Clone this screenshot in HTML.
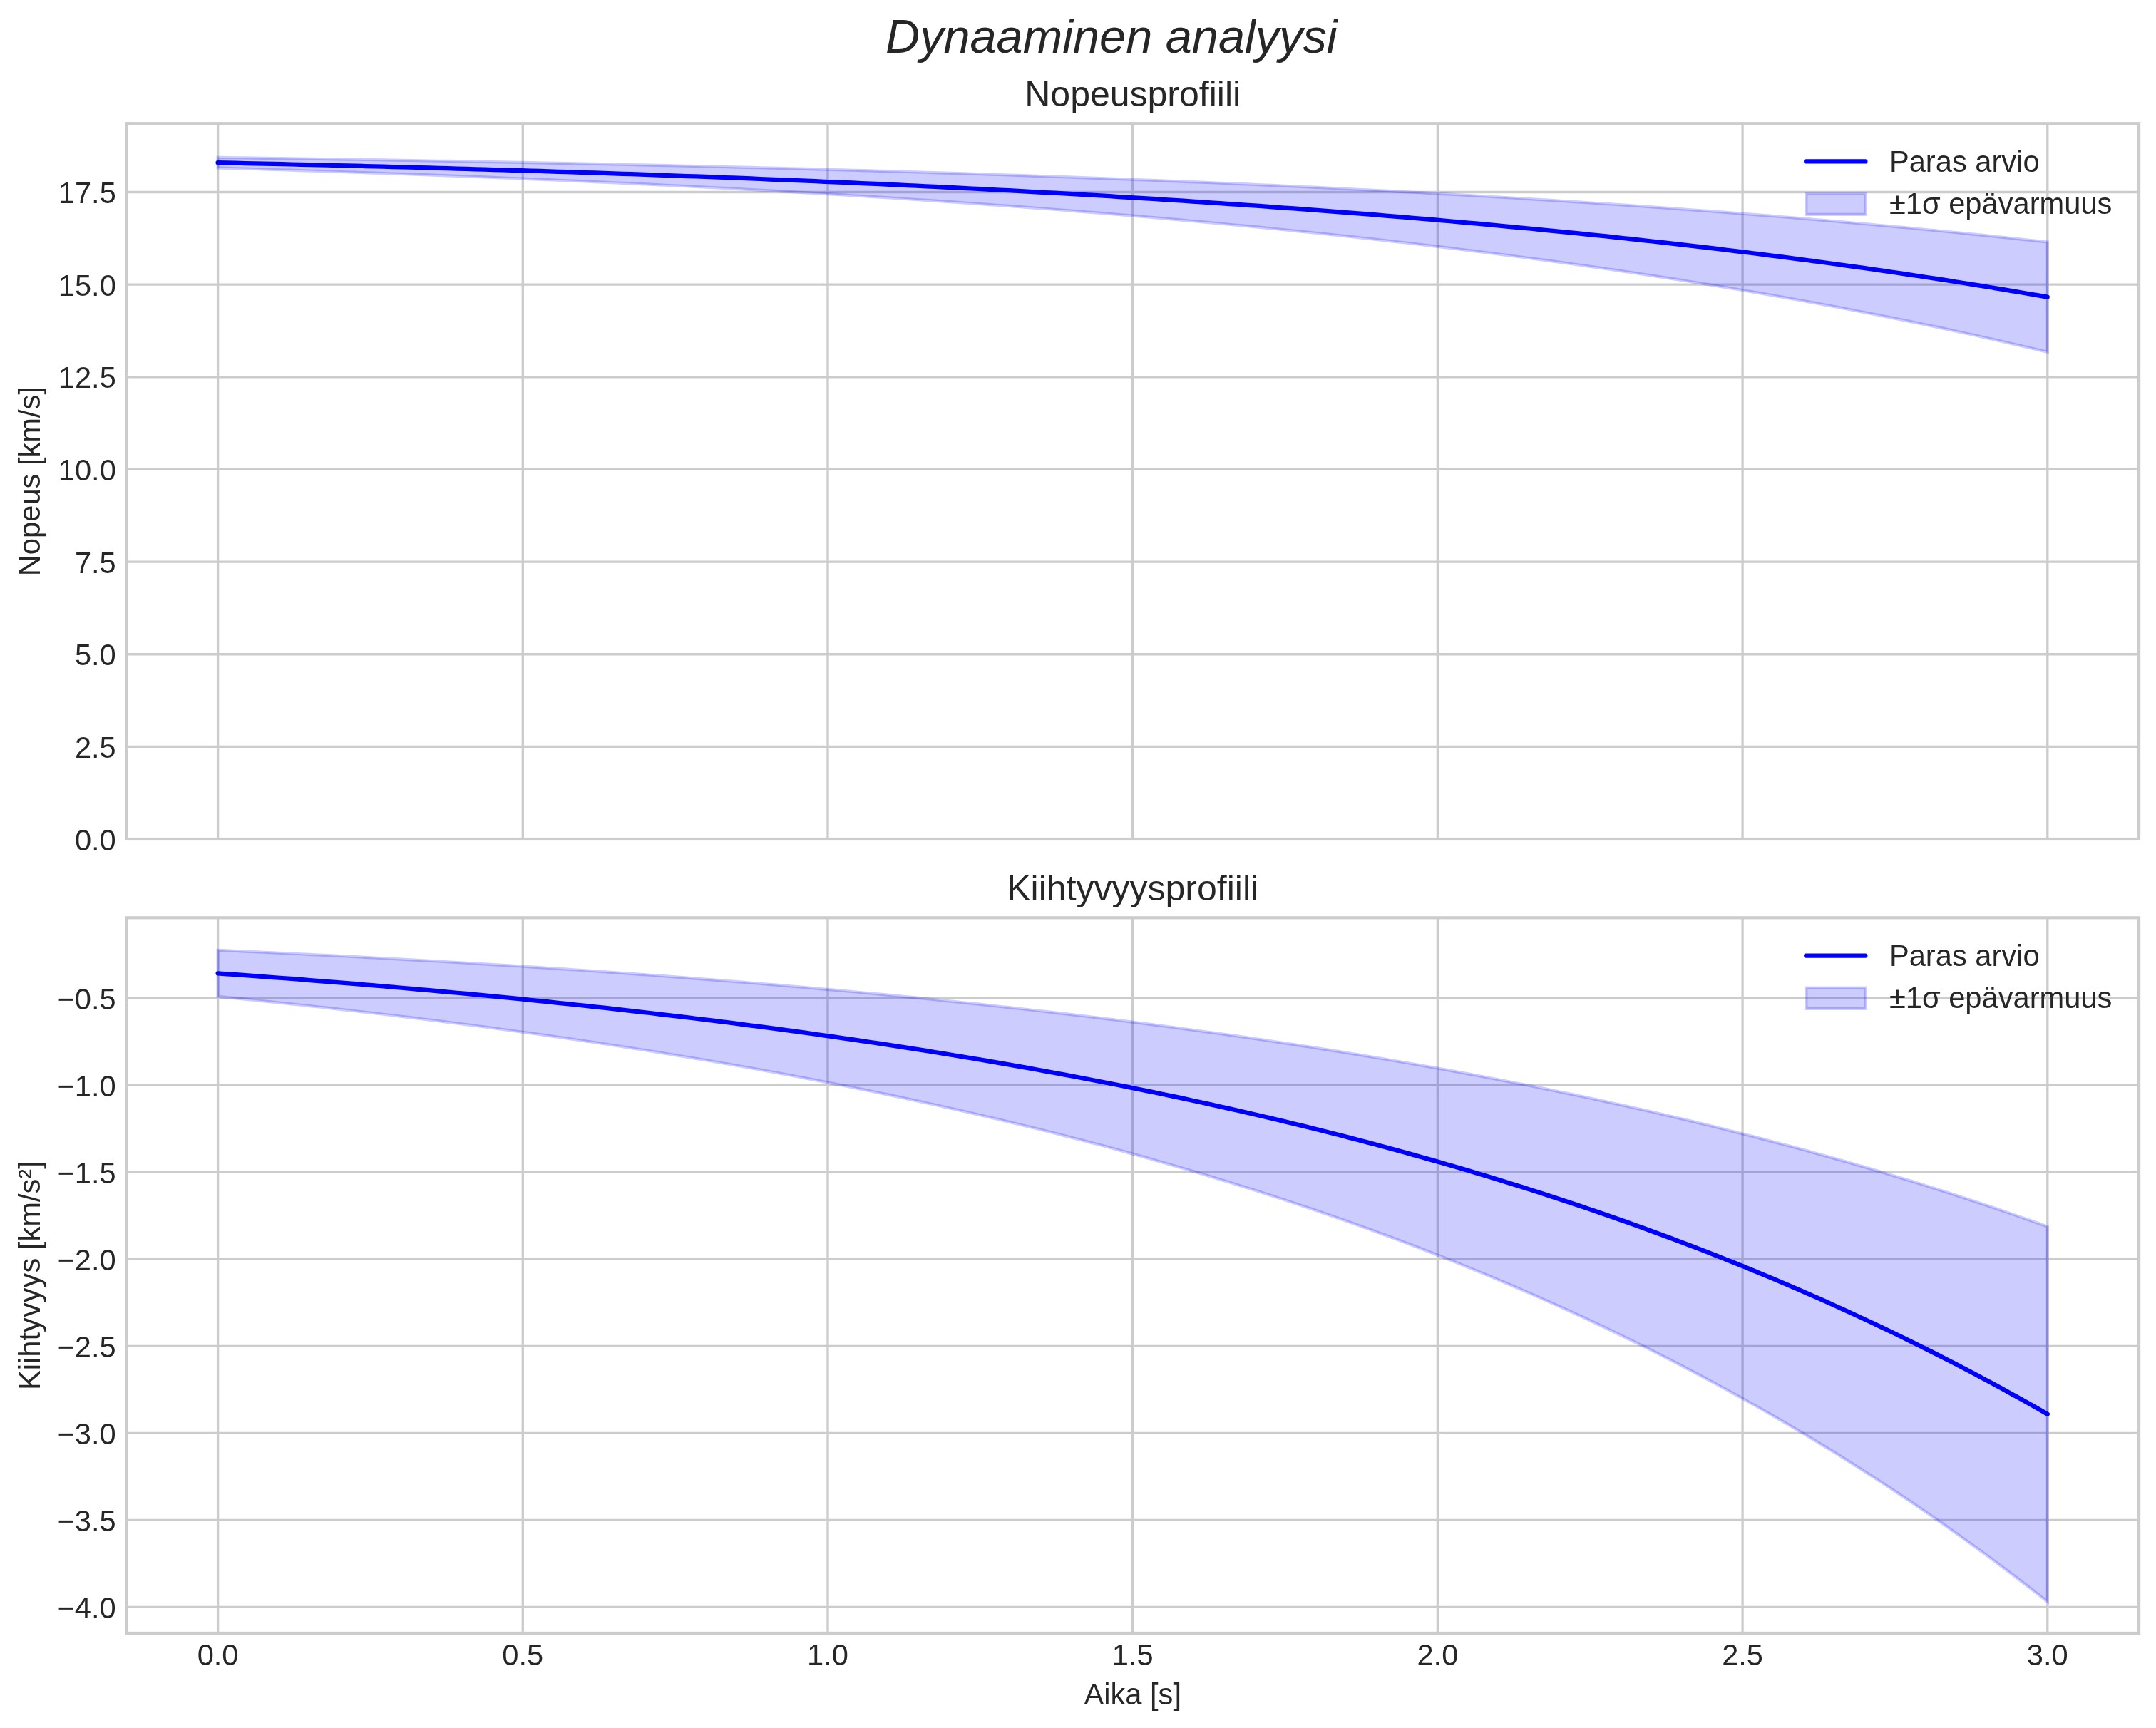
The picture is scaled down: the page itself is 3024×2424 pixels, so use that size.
<!DOCTYPE html>
<html><head><meta charset="utf-8"><style>
html,body{margin:0;padding:0;background:#fff;}
svg{display:block;will-change:transform;}
text{font-family:"Liberation Sans",sans-serif;fill:#262626;}
</style></head><body>
<svg width="3024" height="2424" viewBox="0 0 3024 2424">
<rect x="0" y="0" width="3024" height="2424" fill="#ffffff"/>
<line x1="305.60" y1="173.20" x2="305.60" y2="1177.00" stroke="#cccccc" stroke-width="3.333"/>
<line x1="733.30" y1="173.20" x2="733.30" y2="1177.00" stroke="#cccccc" stroke-width="3.333"/>
<line x1="1161.00" y1="173.20" x2="1161.00" y2="1177.00" stroke="#cccccc" stroke-width="3.333"/>
<line x1="1588.70" y1="173.20" x2="1588.70" y2="1177.00" stroke="#cccccc" stroke-width="3.333"/>
<line x1="2016.40" y1="173.20" x2="2016.40" y2="1177.00" stroke="#cccccc" stroke-width="3.333"/>
<line x1="2444.10" y1="173.20" x2="2444.10" y2="1177.00" stroke="#cccccc" stroke-width="3.333"/>
<line x1="2871.80" y1="173.20" x2="2871.80" y2="1177.00" stroke="#cccccc" stroke-width="3.333"/>
<line x1="177.30" y1="1177.00" x2="3000.10" y2="1177.00" stroke="#cccccc" stroke-width="3.333"/>
<line x1="177.30" y1="1047.36" x2="3000.10" y2="1047.36" stroke="#cccccc" stroke-width="3.333"/>
<line x1="177.30" y1="917.72" x2="3000.10" y2="917.72" stroke="#cccccc" stroke-width="3.333"/>
<line x1="177.30" y1="788.07" x2="3000.10" y2="788.07" stroke="#cccccc" stroke-width="3.333"/>
<line x1="177.30" y1="658.43" x2="3000.10" y2="658.43" stroke="#cccccc" stroke-width="3.333"/>
<line x1="177.30" y1="528.79" x2="3000.10" y2="528.79" stroke="#cccccc" stroke-width="3.333"/>
<line x1="177.30" y1="399.14" x2="3000.10" y2="399.14" stroke="#cccccc" stroke-width="3.333"/>
<line x1="177.30" y1="269.50" x2="3000.10" y2="269.50" stroke="#cccccc" stroke-width="3.333"/>
<polygon points="305.60,220.91 318.50,221.09 331.39,221.27 344.29,221.45 357.18,221.63 370.08,221.81 382.97,222.00 395.87,222.19 408.76,222.38 421.66,222.57 434.55,222.77 447.45,222.96 460.35,223.16 473.24,223.36 486.14,223.56 499.03,223.77 511.93,223.97 524.82,224.18 537.72,224.39 550.61,224.61 563.51,224.82 576.41,225.04 589.30,225.26 602.20,225.48 615.09,225.71 627.99,225.94 640.88,226.17 653.78,226.40 666.67,226.63 679.57,226.87 692.46,227.11 705.36,227.35 718.26,227.60 731.15,227.84 744.05,228.09 756.94,228.35 769.84,228.60 782.73,228.86 795.63,229.12 808.52,229.38 821.42,229.65 834.31,229.92 847.21,230.19 860.11,230.46 873.00,230.74 885.90,231.02 898.79,231.31 911.69,231.59 924.58,231.88 937.48,232.17 950.37,232.47 963.27,232.77 976.16,233.07 989.06,233.38 1001.96,233.68 1014.85,234.00 1027.75,234.31 1040.64,234.63 1053.54,234.95 1066.43,235.28 1079.33,235.60 1092.22,235.94 1105.12,236.27 1118.02,236.61 1130.91,236.95 1143.81,237.30 1156.70,237.65 1169.60,238.00 1182.49,238.36 1195.39,238.72 1208.28,239.08 1221.18,239.45 1234.07,239.83 1246.97,240.20 1259.87,240.58 1272.76,240.97 1285.66,241.36 1298.55,241.75 1311.45,242.14 1324.34,242.55 1337.24,242.95 1350.13,243.36 1363.03,243.77 1375.92,244.19 1388.82,244.61 1401.72,245.04 1414.61,245.47 1427.51,245.91 1440.40,246.35 1453.30,246.80 1466.19,247.25 1479.09,247.70 1491.98,248.16 1504.88,248.62 1517.77,249.09 1530.67,249.57 1543.57,250.05 1556.46,250.53 1569.36,251.02 1582.25,251.52 1595.15,252.02 1608.04,252.52 1620.94,253.03 1633.83,253.55 1646.73,254.07 1659.63,254.60 1672.52,255.13 1685.42,255.67 1698.31,256.21 1711.21,256.76 1724.10,257.31 1737.00,257.88 1749.89,258.44 1762.79,259.02 1775.68,259.60 1788.58,260.18 1801.48,260.77 1814.37,261.37 1827.27,261.97 1840.16,262.58 1853.06,263.20 1865.95,263.82 1878.85,264.45 1891.74,265.09 1904.64,265.73 1917.53,266.38 1930.43,267.04 1943.33,267.70 1956.22,268.38 1969.12,269.05 1982.01,269.74 1994.91,270.43 2007.80,271.13 2020.70,271.84 2033.59,272.55 2046.49,273.27 2059.38,274.00 2072.28,274.74 2085.18,275.49 2098.07,276.24 2110.97,277.00 2123.86,277.77 2136.76,278.55 2149.65,279.33 2162.55,280.13 2175.44,280.93 2188.34,281.74 2201.24,282.56 2214.13,283.39 2227.03,284.22 2239.92,285.07 2252.82,285.92 2265.71,286.79 2278.61,287.66 2291.50,288.54 2304.40,289.43 2317.29,290.33 2330.19,291.24 2343.09,292.16 2355.98,293.09 2368.88,294.03 2381.77,294.98 2394.67,295.94 2407.56,296.91 2420.46,297.89 2433.35,298.88 2446.25,299.88 2459.14,300.89 2472.04,301.91 2484.94,302.94 2497.83,303.98 2510.73,305.04 2523.62,306.10 2536.52,307.18 2549.41,308.27 2562.31,309.37 2575.20,310.48 2588.10,311.60 2600.99,312.74 2613.89,313.88 2626.79,315.04 2639.68,316.21 2652.58,317.39 2665.47,318.59 2678.37,319.80 2691.26,321.02 2704.16,322.25 2717.05,323.50 2729.95,324.76 2742.85,326.04 2755.74,327.32 2768.64,328.62 2781.53,329.94 2794.43,331.27 2807.32,332.61 2820.22,333.96 2833.11,335.34 2846.01,336.72 2858.90,338.12 2871.80,339.54 2871.80,493.83 2858.90,490.75 2846.01,487.70 2833.11,484.68 2820.22,481.69 2807.32,478.74 2794.43,475.81 2781.53,472.92 2768.64,470.06 2755.74,467.22 2742.85,464.42 2729.95,461.65 2717.05,458.90 2704.16,456.18 2691.26,453.50 2678.37,450.84 2665.47,448.20 2652.58,445.60 2639.68,443.02 2626.79,440.47 2613.89,437.95 2600.99,435.45 2588.10,432.98 2575.20,430.53 2562.31,428.11 2549.41,425.72 2536.52,423.35 2523.62,421.00 2510.73,418.68 2497.83,416.39 2484.94,414.11 2472.04,411.87 2459.14,409.64 2446.25,407.44 2433.35,405.26 2420.46,403.10 2407.56,400.97 2394.67,398.86 2381.77,396.77 2368.88,394.70 2355.98,392.66 2343.09,390.63 2330.19,388.63 2317.29,386.65 2304.40,384.69 2291.50,382.75 2278.61,380.83 2265.71,378.93 2252.82,377.04 2239.92,375.18 2227.03,373.34 2214.13,371.52 2201.24,369.72 2188.34,367.93 2175.44,366.17 2162.55,364.42 2149.65,362.69 2136.76,360.98 2123.86,359.29 2110.97,357.61 2098.07,355.95 2085.18,354.31 2072.28,352.69 2059.38,351.08 2046.49,349.49 2033.59,347.92 2020.70,346.36 2007.80,344.82 1994.91,343.30 1982.01,341.79 1969.12,340.30 1956.22,338.82 1943.33,337.36 1930.43,335.91 1917.53,334.48 1904.64,333.07 1891.74,331.67 1878.85,330.28 1865.95,328.91 1853.06,327.55 1840.16,326.20 1827.27,324.88 1814.37,323.56 1801.48,322.26 1788.58,320.97 1775.68,319.69 1762.79,318.43 1749.89,317.18 1737.00,315.95 1724.10,314.73 1711.21,313.52 1698.31,312.32 1685.42,311.14 1672.52,309.96 1659.63,308.80 1646.73,307.66 1633.83,306.52 1620.94,305.40 1608.04,304.28 1595.15,303.18 1582.25,302.10 1569.36,301.02 1556.46,299.95 1543.57,298.90 1530.67,297.85 1517.77,296.82 1504.88,295.80 1491.98,294.78 1479.09,293.78 1466.19,292.79 1453.30,291.81 1440.40,290.84 1427.51,289.88 1414.61,288.93 1401.72,287.99 1388.82,287.06 1375.92,286.14 1363.03,285.23 1350.13,284.33 1337.24,283.44 1324.34,282.56 1311.45,281.68 1298.55,280.82 1285.66,279.96 1272.76,279.12 1259.87,278.28 1246.97,277.45 1234.07,276.63 1221.18,275.82 1208.28,275.02 1195.39,274.22 1182.49,273.44 1169.60,272.66 1156.70,271.89 1143.81,271.13 1130.91,270.37 1118.02,269.63 1105.12,268.89 1092.22,268.16 1079.33,267.43 1066.43,266.72 1053.54,266.01 1040.64,265.31 1027.75,264.62 1014.85,263.93 1001.96,263.25 989.06,262.58 976.16,261.92 963.27,261.26 950.37,260.61 937.48,259.96 924.58,259.33 911.69,258.70 898.79,258.07 885.90,257.46 873.00,256.84 860.11,256.24 847.21,255.64 834.31,255.05 821.42,254.46 808.52,253.88 795.63,253.31 782.73,252.74 769.84,252.18 756.94,251.63 744.05,251.08 731.15,250.53 718.26,249.99 705.36,249.46 692.46,248.93 679.57,248.41 666.67,247.89 653.78,247.38 640.88,246.88 627.99,246.38 615.09,245.88 602.20,245.39 589.30,244.91 576.41,244.43 563.51,243.95 550.61,243.48 537.72,243.02 524.82,242.56 511.93,242.10 499.03,241.65 486.14,241.21 473.24,240.76 460.35,240.33 447.45,239.90 434.55,239.47 421.66,239.05 408.76,238.63 395.87,238.21 382.97,237.80 370.08,237.40 357.18,237.00 344.29,236.60 331.39,236.21 318.50,235.82 305.60,235.43" fill="#0000ff" fill-opacity="0.2" stroke="#0000ff" stroke-opacity="0.2" stroke-width="4.167" stroke-linejoin="miter"/>
<polyline points="305.60,228.17 318.50,228.45 331.39,228.74 344.29,229.02 357.18,229.31 370.08,229.61 382.97,229.90 395.87,230.20 408.76,230.50 421.66,230.81 434.55,231.12 447.45,231.43 460.35,231.74 473.24,232.06 486.14,232.38 499.03,232.71 511.93,233.04 524.82,233.37 537.72,233.71 550.61,234.05 563.51,234.39 576.41,234.73 589.30,235.08 602.20,235.44 615.09,235.80 627.99,236.16 640.88,236.52 653.78,236.89 666.67,237.26 679.57,237.64 692.46,238.02 705.36,238.41 718.26,238.79 731.15,239.19 744.05,239.58 756.94,239.99 769.84,240.39 782.73,240.80 795.63,241.22 808.52,241.63 821.42,242.06 834.31,242.48 847.21,242.92 860.11,243.35 873.00,243.79 885.90,244.24 898.79,244.69 911.69,245.14 924.58,245.60 937.48,246.07 950.37,246.54 963.27,247.01 976.16,247.49 989.06,247.98 1001.96,248.47 1014.85,248.96 1027.75,249.46 1040.64,249.97 1053.54,250.48 1066.43,251.00 1079.33,251.52 1092.22,252.05 1105.12,252.58 1118.02,253.12 1130.91,253.66 1143.81,254.21 1156.70,254.77 1169.60,255.33 1182.49,255.90 1195.39,256.47 1208.28,257.05 1221.18,257.64 1234.07,258.23 1246.97,258.83 1259.87,259.43 1272.76,260.04 1285.66,260.66 1298.55,261.28 1311.45,261.91 1324.34,262.55 1337.24,263.19 1350.13,263.84 1363.03,264.50 1375.92,265.17 1388.82,265.84 1401.72,266.52 1414.61,267.20 1427.51,267.90 1440.40,268.60 1453.30,269.30 1466.19,270.02 1479.09,270.74 1491.98,271.47 1504.88,272.21 1517.77,272.96 1530.67,273.71 1543.57,274.47 1556.46,275.24 1569.36,276.02 1582.25,276.81 1595.15,277.60 1608.04,278.40 1620.94,279.21 1633.83,280.03 1646.73,280.86 1659.63,281.70 1672.52,282.55 1685.42,283.40 1698.31,284.27 1711.21,285.14 1724.10,286.02 1737.00,286.91 1749.89,287.81 1762.79,288.72 1775.68,289.64 1788.58,290.57 1801.48,291.51 1814.37,292.46 1827.27,293.42 1840.16,294.39 1853.06,295.37 1865.95,296.37 1878.85,297.37 1891.74,298.38 1904.64,299.40 1917.53,300.43 1930.43,301.48 1943.33,302.53 1956.22,303.60 1969.12,304.68 1982.01,305.76 1994.91,306.87 2007.80,307.98 2020.70,309.10 2033.59,310.24 2046.49,311.38 2059.38,312.54 2072.28,313.72 2085.18,314.90 2098.07,316.10 2110.97,317.31 2123.86,318.53 2136.76,319.76 2149.65,321.01 2162.55,322.27 2175.44,323.55 2188.34,324.84 2201.24,326.14 2214.13,327.45 2227.03,328.78 2239.92,330.13 2252.82,331.48 2265.71,332.86 2278.61,334.24 2291.50,335.64 2304.40,337.06 2317.29,338.49 2330.19,339.94 2343.09,341.40 2355.98,342.87 2368.88,344.37 2381.77,345.87 2394.67,347.40 2407.56,348.94 2420.46,350.50 2433.35,352.07 2446.25,353.66 2459.14,355.26 2472.04,356.89 2484.94,358.53 2497.83,360.18 2510.73,361.86 2523.62,363.55 2536.52,365.26 2549.41,366.99 2562.31,368.74 2575.20,370.51 2588.10,372.29 2600.99,374.09 2613.89,375.91 2626.79,377.76 2639.68,379.62 2652.58,381.50 2665.47,383.40 2678.37,385.32 2691.26,387.26 2704.16,389.22 2717.05,391.20 2729.95,393.20 2742.85,395.23 2755.74,397.27 2768.64,399.34 2781.53,401.43 2794.43,403.54 2807.32,405.67 2820.22,407.83 2833.11,410.01 2846.01,412.21 2858.90,414.43 2871.80,416.68" fill="none" stroke="#0000ff" stroke-width="6.25" stroke-linecap="round" stroke-linejoin="round"/>
<rect x="177.30" y="173.20" width="2822.80" height="1003.80" fill="none" stroke="#cccccc" stroke-width="4.167" stroke-linejoin="miter"/>
<text x="162.8" y="1192.50" text-anchor="end" font-size="41.667">0.0</text>
<text x="162.8" y="1062.86" text-anchor="end" font-size="41.667">2.5</text>
<text x="162.8" y="933.22" text-anchor="end" font-size="41.667">5.0</text>
<text x="162.8" y="803.57" text-anchor="end" font-size="41.667">7.5</text>
<text x="162.8" y="673.93" text-anchor="end" font-size="41.667">10.0</text>
<text x="162.8" y="544.29" text-anchor="end" font-size="41.667">12.5</text>
<text x="162.8" y="414.64" text-anchor="end" font-size="41.667">15.0</text>
<text x="162.8" y="285.00" text-anchor="end" font-size="41.667">17.5</text>
<text x="1588.70" y="148.70" text-anchor="middle" font-size="50">Nopeusprofiili</text>
<text transform="translate(56.2,675.10) rotate(-90)" text-anchor="middle" font-size="41.667">Nopeus [km/s]</text>
<line x1="2533.2" y1="226.40" x2="2616.4" y2="226.40" stroke="#0000ff" stroke-width="6.25" stroke-linecap="round"/>
<text x="2649.9" y="240.90" font-size="41.667">Paras arvio</text>
<rect x="2533.3" y="271.60" width="83.3" height="29.2" fill="#0000ff" fill-opacity="0.2" stroke="#0000ff" stroke-opacity="0.2" stroke-width="4.167"/>
<text x="2649.9" y="300.10" font-size="41.667">±1σ epävarmuus</text>
<line x1="305.60" y1="1287.30" x2="305.60" y2="2290.90" stroke="#cccccc" stroke-width="3.333"/>
<line x1="733.30" y1="1287.30" x2="733.30" y2="2290.90" stroke="#cccccc" stroke-width="3.333"/>
<line x1="1161.00" y1="1287.30" x2="1161.00" y2="2290.90" stroke="#cccccc" stroke-width="3.333"/>
<line x1="1588.70" y1="1287.30" x2="1588.70" y2="2290.90" stroke="#cccccc" stroke-width="3.333"/>
<line x1="2016.40" y1="1287.30" x2="2016.40" y2="2290.90" stroke="#cccccc" stroke-width="3.333"/>
<line x1="2444.10" y1="1287.30" x2="2444.10" y2="2290.90" stroke="#cccccc" stroke-width="3.333"/>
<line x1="2871.80" y1="1287.30" x2="2871.80" y2="2290.90" stroke="#cccccc" stroke-width="3.333"/>
<line x1="177.30" y1="1400.20" x2="3000.10" y2="1400.20" stroke="#cccccc" stroke-width="3.333"/>
<line x1="177.30" y1="1522.23" x2="3000.10" y2="1522.23" stroke="#cccccc" stroke-width="3.333"/>
<line x1="177.30" y1="1644.26" x2="3000.10" y2="1644.26" stroke="#cccccc" stroke-width="3.333"/>
<line x1="177.30" y1="1766.29" x2="3000.10" y2="1766.29" stroke="#cccccc" stroke-width="3.333"/>
<line x1="177.30" y1="1888.32" x2="3000.10" y2="1888.32" stroke="#cccccc" stroke-width="3.333"/>
<line x1="177.30" y1="2010.35" x2="3000.10" y2="2010.35" stroke="#cccccc" stroke-width="3.333"/>
<line x1="177.30" y1="2132.38" x2="3000.10" y2="2132.38" stroke="#cccccc" stroke-width="3.333"/>
<line x1="177.30" y1="2254.41" x2="3000.10" y2="2254.41" stroke="#cccccc" stroke-width="3.333"/>
<polygon points="305.60,1332.84 318.50,1333.42 331.39,1334.00 344.29,1334.59 357.18,1335.19 370.08,1335.79 382.97,1336.40 395.87,1337.01 408.76,1337.63 421.66,1338.26 434.55,1338.90 447.45,1339.54 460.35,1340.19 473.24,1340.84 486.14,1341.50 499.03,1342.17 511.93,1342.85 524.82,1343.53 537.72,1344.22 550.61,1344.92 563.51,1345.62 576.41,1346.34 589.30,1347.06 602.20,1347.78 615.09,1348.52 627.99,1349.26 640.88,1350.01 653.78,1350.77 666.67,1351.54 679.57,1352.32 692.46,1353.10 705.36,1353.89 718.26,1354.69 731.15,1355.50 744.05,1356.31 756.94,1357.14 769.84,1357.97 782.73,1358.82 795.63,1359.67 808.52,1360.53 821.42,1361.40 834.31,1362.28 847.21,1363.17 860.11,1364.07 873.00,1364.97 885.90,1365.89 898.79,1366.82 911.69,1367.75 924.58,1368.70 937.48,1369.65 950.37,1370.62 963.27,1371.60 976.16,1372.58 989.06,1373.58 1001.96,1374.59 1014.85,1375.61 1027.75,1376.64 1040.64,1377.68 1053.54,1378.73 1066.43,1379.79 1079.33,1380.86 1092.22,1381.95 1105.12,1383.05 1118.02,1384.15 1130.91,1385.27 1143.81,1386.40 1156.70,1387.55 1169.60,1388.70 1182.49,1389.87 1195.39,1391.05 1208.28,1392.24 1221.18,1393.45 1234.07,1394.66 1246.97,1395.90 1259.87,1397.14 1272.76,1398.40 1285.66,1399.67 1298.55,1400.95 1311.45,1402.25 1324.34,1403.56 1337.24,1404.88 1350.13,1406.22 1363.03,1407.57 1375.92,1408.94 1388.82,1410.32 1401.72,1411.72 1414.61,1413.13 1427.51,1414.55 1440.40,1415.99 1453.30,1417.45 1466.19,1418.92 1479.09,1420.41 1491.98,1421.91 1504.88,1423.43 1517.77,1424.96 1530.67,1426.51 1543.57,1428.08 1556.46,1429.66 1569.36,1431.26 1582.25,1432.88 1595.15,1434.51 1608.04,1436.17 1620.94,1437.83 1633.83,1439.52 1646.73,1441.23 1659.63,1442.95 1672.52,1444.69 1685.42,1446.45 1698.31,1448.22 1711.21,1450.02 1724.10,1451.84 1737.00,1453.67 1749.89,1455.52 1762.79,1457.40 1775.68,1459.29 1788.58,1461.20 1801.48,1463.14 1814.37,1465.09 1827.27,1467.07 1840.16,1469.06 1853.06,1471.08 1865.95,1473.11 1878.85,1475.17 1891.74,1477.26 1904.64,1479.36 1917.53,1481.48 1930.43,1483.63 1943.33,1485.80 1956.22,1487.99 1969.12,1490.21 1982.01,1492.45 1994.91,1494.71 2007.80,1497.00 2020.70,1499.31 2033.59,1501.65 2046.49,1504.01 2059.38,1506.39 2072.28,1508.81 2085.18,1511.24 2098.07,1513.70 2110.97,1516.19 2123.86,1518.71 2136.76,1521.25 2149.65,1523.81 2162.55,1526.41 2175.44,1529.03 2188.34,1531.68 2201.24,1534.36 2214.13,1537.06 2227.03,1539.80 2239.92,1542.56 2252.82,1545.36 2265.71,1548.18 2278.61,1551.03 2291.50,1553.91 2304.40,1556.82 2317.29,1559.77 2330.19,1562.74 2343.09,1565.75 2355.98,1568.79 2368.88,1571.86 2381.77,1574.96 2394.67,1578.09 2407.56,1581.26 2420.46,1584.46 2433.35,1587.70 2446.25,1590.97 2459.14,1594.27 2472.04,1597.61 2484.94,1600.98 2497.83,1604.39 2510.73,1607.84 2523.62,1611.32 2536.52,1614.84 2549.41,1618.40 2562.31,1621.99 2575.20,1625.62 2588.10,1629.29 2600.99,1633.00 2613.89,1636.75 2626.79,1640.54 2639.68,1644.37 2652.58,1648.23 2665.47,1652.14 2678.37,1656.09 2691.26,1660.09 2704.16,1664.12 2717.05,1668.20 2729.95,1672.32 2742.85,1676.48 2755.74,1680.69 2768.64,1684.94 2781.53,1689.24 2794.43,1693.58 2807.32,1697.97 2820.22,1702.40 2833.11,1706.88 2846.01,1711.41 2858.90,1715.99 2871.80,1720.61 2871.80,2246.80 2858.90,2236.67 2846.01,2226.65 2833.11,2216.74 2820.22,2206.93 2807.32,2197.22 2794.43,2187.62 2781.53,2178.11 2768.64,2168.70 2755.74,2159.39 2742.85,2150.18 2729.95,2141.07 2717.05,2132.05 2704.16,2123.12 2691.26,2114.29 2678.37,2105.55 2665.47,2096.90 2652.58,2088.35 2639.68,2079.88 2626.79,2071.50 2613.89,2063.21 2600.99,2055.00 2588.10,2046.88 2575.20,2038.85 2562.31,2030.89 2549.41,2023.03 2536.52,2015.24 2523.62,2007.54 2510.73,1999.91 2497.83,1992.37 2484.94,1984.90 2472.04,1977.52 2459.14,1970.21 2446.25,1962.97 2433.35,1955.82 2420.46,1948.73 2407.56,1941.72 2394.67,1934.79 2381.77,1927.92 2368.88,1921.13 2355.98,1914.41 2343.09,1907.76 2330.19,1901.18 2317.29,1894.67 2304.40,1888.22 2291.50,1881.85 2278.61,1875.54 2265.71,1869.29 2252.82,1863.12 2239.92,1857.00 2227.03,1850.95 2214.13,1844.96 2201.24,1839.04 2188.34,1833.18 2175.44,1827.38 2162.55,1821.64 2149.65,1815.95 2136.76,1810.33 2123.86,1804.77 2110.97,1799.27 2098.07,1793.82 2085.18,1788.43 2072.28,1783.10 2059.38,1777.82 2046.49,1772.60 2033.59,1767.43 2020.70,1762.31 2007.80,1757.25 1994.91,1752.25 1982.01,1747.29 1969.12,1742.39 1956.22,1737.53 1943.33,1732.73 1930.43,1727.98 1917.53,1723.28 1904.64,1718.63 1891.74,1714.02 1878.85,1709.47 1865.95,1704.96 1853.06,1700.50 1840.16,1696.08 1827.27,1691.72 1814.37,1687.39 1801.48,1683.12 1788.58,1678.88 1775.68,1674.70 1762.79,1670.55 1749.89,1666.45 1737.00,1662.39 1724.10,1658.37 1711.21,1654.40 1698.31,1650.47 1685.42,1646.58 1672.52,1642.73 1659.63,1638.92 1646.73,1635.14 1633.83,1631.41 1620.94,1627.72 1608.04,1624.07 1595.15,1620.45 1582.25,1616.87 1569.36,1613.33 1556.46,1609.83 1543.57,1606.36 1530.67,1602.93 1517.77,1599.54 1504.88,1596.18 1491.98,1592.86 1479.09,1589.57 1466.19,1586.31 1453.30,1583.09 1440.40,1579.90 1427.51,1576.75 1414.61,1573.63 1401.72,1570.54 1388.82,1567.48 1375.92,1564.46 1363.03,1561.47 1350.13,1558.51 1337.24,1555.58 1324.34,1552.68 1311.45,1549.81 1298.55,1546.97 1285.66,1544.16 1272.76,1541.38 1259.87,1538.63 1246.97,1535.90 1234.07,1533.21 1221.18,1530.54 1208.28,1527.91 1195.39,1525.30 1182.49,1522.71 1169.60,1520.16 1156.70,1517.63 1143.81,1515.12 1130.91,1512.65 1118.02,1510.20 1105.12,1507.77 1092.22,1505.37 1079.33,1503.00 1066.43,1500.65 1053.54,1498.32 1040.64,1496.02 1027.75,1493.74 1014.85,1491.49 1001.96,1489.26 989.06,1487.05 976.16,1484.87 963.27,1482.71 950.37,1480.57 937.48,1478.46 924.58,1476.36 911.69,1474.29 898.79,1472.24 885.90,1470.21 873.00,1468.21 860.11,1466.22 847.21,1464.25 834.31,1462.31 821.42,1460.38 808.52,1458.48 795.63,1456.59 782.73,1454.73 769.84,1452.88 756.94,1451.06 744.05,1449.25 731.15,1447.46 718.26,1445.69 705.36,1443.94 692.46,1442.21 679.57,1440.49 666.67,1438.80 653.78,1437.12 640.88,1435.46 627.99,1433.81 615.09,1432.19 602.20,1430.58 589.30,1428.98 576.41,1427.41 563.51,1425.85 550.61,1424.30 537.72,1422.78 524.82,1421.26 511.93,1419.77 499.03,1418.29 486.14,1416.82 473.24,1415.38 460.35,1413.94 447.45,1412.52 434.55,1411.12 421.66,1409.73 408.76,1408.35 395.87,1406.99 382.97,1405.65 370.08,1404.31 357.18,1402.99 344.29,1401.69 331.39,1400.40 318.50,1399.12 305.60,1397.86" fill="#0000ff" fill-opacity="0.2" stroke="#0000ff" stroke-opacity="0.2" stroke-width="4.167" stroke-linejoin="miter"/>
<polyline points="305.60,1365.35 318.50,1366.27 331.39,1367.20 344.29,1368.14 357.18,1369.09 370.08,1370.05 382.97,1371.02 395.87,1372.00 408.76,1372.99 421.66,1373.99 434.55,1375.01 447.45,1376.03 460.35,1377.06 473.24,1378.11 486.14,1379.16 499.03,1380.23 511.93,1381.31 524.82,1382.40 537.72,1383.50 550.61,1384.61 563.51,1385.74 576.41,1386.87 589.30,1388.02 602.20,1389.18 615.09,1390.35 627.99,1391.54 640.88,1392.74 653.78,1393.95 666.67,1395.17 679.57,1396.40 692.46,1397.65 705.36,1398.92 718.26,1400.19 731.15,1401.48 744.05,1402.78 756.94,1404.10 769.84,1405.43 782.73,1406.77 795.63,1408.13 808.52,1409.50 821.42,1410.89 834.31,1412.29 847.21,1413.71 860.11,1415.14 873.00,1416.59 885.90,1418.05 898.79,1419.53 911.69,1421.02 924.58,1422.53 937.48,1424.06 950.37,1425.60 963.27,1427.15 976.16,1428.73 989.06,1430.32 1001.96,1431.93 1014.85,1433.55 1027.75,1435.19 1040.64,1436.85 1053.54,1438.53 1066.43,1440.22 1079.33,1441.93 1092.22,1443.66 1105.12,1445.41 1118.02,1447.18 1130.91,1448.96 1143.81,1450.76 1156.70,1452.59 1169.60,1454.43 1182.49,1456.29 1195.39,1458.17 1208.28,1460.07 1221.18,1462.00 1234.07,1463.94 1246.97,1465.90 1259.87,1467.88 1272.76,1469.89 1285.66,1471.91 1298.55,1473.96 1311.45,1476.03 1324.34,1478.12 1337.24,1480.23 1350.13,1482.36 1363.03,1484.52 1375.92,1486.70 1388.82,1488.90 1401.72,1491.13 1414.61,1493.38 1427.51,1495.65 1440.40,1497.95 1453.30,1500.27 1466.19,1502.62 1479.09,1504.99 1491.98,1507.38 1504.88,1509.80 1517.77,1512.25 1530.67,1514.72 1543.57,1517.22 1556.46,1519.75 1569.36,1522.30 1582.25,1524.88 1595.15,1527.48 1608.04,1530.12 1620.94,1532.78 1633.83,1535.47 1646.73,1538.18 1659.63,1540.93 1672.52,1543.71 1685.42,1546.51 1698.31,1549.35 1711.21,1552.21 1724.10,1555.11 1737.00,1558.03 1749.89,1560.99 1762.79,1563.97 1775.68,1566.99 1788.58,1570.04 1801.48,1573.13 1814.37,1576.24 1827.27,1579.39 1840.16,1582.57 1853.06,1585.79 1865.95,1589.04 1878.85,1592.32 1891.74,1595.64 1904.64,1598.99 1917.53,1602.38 1930.43,1605.81 1943.33,1609.27 1956.22,1612.76 1969.12,1616.30 1982.01,1619.87 1994.91,1623.48 2007.80,1627.13 2020.70,1630.81 2033.59,1634.54 2046.49,1638.30 2059.38,1642.11 2072.28,1645.95 2085.18,1649.84 2098.07,1653.76 2110.97,1657.73 2123.86,1661.74 2136.76,1665.79 2149.65,1669.88 2162.55,1674.02 2175.44,1678.20 2188.34,1682.43 2201.24,1686.70 2214.13,1691.01 2227.03,1695.38 2239.92,1699.78 2252.82,1704.24 2265.71,1708.74 2278.61,1713.28 2291.50,1717.88 2304.40,1722.52 2317.29,1727.22 2330.19,1731.96 2343.09,1736.75 2355.98,1741.60 2368.88,1746.49 2381.77,1751.44 2394.67,1756.44 2407.56,1761.49 2420.46,1766.60 2433.35,1771.76 2446.25,1776.97 2459.14,1782.24 2472.04,1787.56 2484.94,1792.94 2497.83,1798.38 2510.73,1803.88 2523.62,1809.43 2536.52,1815.04 2549.41,1820.71 2562.31,1826.44 2575.20,1832.23 2588.10,1838.09 2600.99,1844.00 2613.89,1849.98 2626.79,1856.02 2639.68,1862.12 2652.58,1868.29 2665.47,1874.52 2678.37,1880.82 2691.26,1887.19 2704.16,1893.62 2717.05,1900.12 2729.95,1906.69 2742.85,1913.33 2755.74,1920.04 2768.64,1926.82 2781.53,1933.67 2794.43,1940.60 2807.32,1947.59 2820.22,1954.66 2833.11,1961.81 2846.01,1969.03 2858.90,1976.33 2871.80,1983.70" fill="none" stroke="#0000ff" stroke-width="6.25" stroke-linecap="round" stroke-linejoin="round"/>
<rect x="177.30" y="1287.30" width="2822.80" height="1003.60" fill="none" stroke="#cccccc" stroke-width="4.167" stroke-linejoin="miter"/>
<text x="162.8" y="1415.70" text-anchor="end" font-size="41.667">−0.5</text>
<text x="162.8" y="1537.73" text-anchor="end" font-size="41.667">−1.0</text>
<text x="162.8" y="1659.76" text-anchor="end" font-size="41.667">−1.5</text>
<text x="162.8" y="1781.79" text-anchor="end" font-size="41.667">−2.0</text>
<text x="162.8" y="1903.82" text-anchor="end" font-size="41.667">−2.5</text>
<text x="162.8" y="2025.85" text-anchor="end" font-size="41.667">−3.0</text>
<text x="162.8" y="2147.88" text-anchor="end" font-size="41.667">−3.5</text>
<text x="162.8" y="2269.91" text-anchor="end" font-size="41.667">−4.0</text>
<text x="1588.70" y="1262.80" text-anchor="middle" font-size="50">Kiihtyvyysprofiili</text>
<text transform="translate(56.2,1789.10) rotate(-90)" text-anchor="middle" font-size="41.667">Kiihtyvyys [km/s²]</text>
<line x1="2533.2" y1="1340.50" x2="2616.4" y2="1340.50" stroke="#0000ff" stroke-width="6.25" stroke-linecap="round"/>
<text x="2649.9" y="1355.00" font-size="41.667">Paras arvio</text>
<rect x="2533.3" y="1385.70" width="83.3" height="29.2" fill="#0000ff" fill-opacity="0.2" stroke="#0000ff" stroke-opacity="0.2" stroke-width="4.167"/>
<text x="2649.9" y="1414.20" font-size="41.667">±1σ epävarmuus</text>
<text x="305.60" y="2335.9" text-anchor="middle" font-size="41.667">0.0</text>
<text x="733.30" y="2335.9" text-anchor="middle" font-size="41.667">0.5</text>
<text x="1161.00" y="2335.9" text-anchor="middle" font-size="41.667">1.0</text>
<text x="1588.70" y="2335.9" text-anchor="middle" font-size="41.667">1.5</text>
<text x="2016.40" y="2335.9" text-anchor="middle" font-size="41.667">2.0</text>
<text x="2444.10" y="2335.9" text-anchor="middle" font-size="41.667">2.5</text>
<text x="2871.80" y="2335.9" text-anchor="middle" font-size="41.667">3.0</text>
<text x="1588.70" y="2391.3" text-anchor="middle" font-size="41.667">Aika [s]</text>
<text x="1558.8" y="73.6" text-anchor="middle" font-size="66.667" font-style="italic">Dynaaminen analyysi</text>
</svg>
</body></html>
